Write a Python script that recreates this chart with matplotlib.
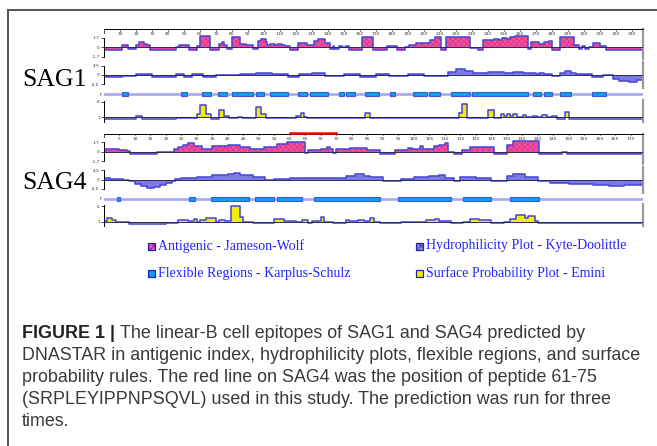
import matplotlib.pyplot as plt
import numpy as np
from matplotlib.patches import Rectangle

plt.rcParams['hatch.linewidth'] = 0.4

W, H = 657, 446

# ---- SAG1 (337 aa) ----
sag1_len = 337
sag1_ticks = list(range(10, 331, 10))
sag1_ag_start = [0, 11, 15, 20, 22, 25, 27, 29, 45, 47, 53, 58, 60, 66, 72, 74, 75, 77, 80, 85,
                 89, 93, 96, 98, 101, 102, 104, 107, 109, 111, 113, 116, 121, 127, 131, 134, 138,
                 141, 143, 144, 147, 149, 151, 153, 161, 168, 177, 183, 188, 191, 195, 204, 207,
                 211, 214, 229, 234, 237, 244, 247, 249, 252, 254, 257, 265, 267, 272, 275, 278,
                 280, 285, 294, 297, 299, 301, 303, 306, 310, 314]
sag1_ag_val = [-0.4, 0.5, -0.2, 0.4, 1.0, 0.7, 0.4, -0.5, 0.0, 0.5, -0.5, 0.3, 2.0, -0.5, 0.7,
               0.9, 0.4, -0.3, 1.9, 0.6, 0.4, -0.3, 1.2, 1.5, 1.0, 0.5, 0.7, 0.4, 0.7, 0.5, 0.3,
               -0.4, 0.8, 0.5, 1.2, 1.5, 0.8, -0.3, 0.2, -0.3, 0.3, 0.1, 0.3, -0.4, 1.9, -0.4,
               0.3, -0.4, 0.1, 0.5, 0.8, 1.4, 1.9, -0.4, 1.9, -0.1, -0.4, 1.3, 1.5, 1.3, 1.7,
               1.5, 1.9, 2.0, -0.3, 0.9, 0.6, 0.9, 1.2, -0.4, 1.9, 0.4, -0.2, 0.2, -0.3, 0.1,
               0.8, 0.3, -0.4]
sag1_hy_start = [0, 11, 20, 30, 45, 50, 55, 62, 70, 85, 95, 105, 115, 122, 130, 138, 145, 150,
                 160, 170, 178, 190, 200, 210, 215, 220, 226, 231, 240, 250, 256, 262, 270, 272,
                 275, 280, 285, 288, 292, 295, 305, 312, 318, 322, 328, 333]
sag1_hy_val = [-0.8, -0.5, 0.3, -1.0, 0.3, -1.0, 0.3, -1.0, 0.2, 0.5, 0.8, 0.3, -1.0, 0.6, 1.0,
               -0.5, -0.7, 0.3, -0.8, 0.6, -0.5, 0.5, -0.3, -0.5, 1.4, 2.7, 1.9, 0.8, 1.5, 0.8,
               1.5, 1.2, 0.3, 1.2, 0.4, -0.5, 1.2, 1.7, 0.8, 0.3, -0.8, 0.0, -2.0, -3.0, -3.4,
               -2.6]
sag1_fl_start = [11, 48, 61, 71, 80, 95, 104, 121, 129, 147, 151, 163, 179, 193, 203, 217, 230,
                 268, 275, 285, 305]
sag1_fl_end = [15, 52, 67, 77, 93, 100, 115, 127, 140, 150, 157, 172, 182, 202, 210, 229, 265,
               273, 280, 292, 314]
sag1_sf_start = [0, 20, 24, 45, 48, 58, 60, 64, 67, 72, 75, 78, 84, 86, 95, 98, 101, 120, 123,
                 125, 127, 147, 163, 166, 195, 222, 224, 227, 240, 244, 248, 250, 252, 254, 256,
                 258, 262, 264, 268, 271, 274, 277, 280, 283, 288, 291]
sag1_sf_val = [0.6, 1.5, 0.6, 0.9, 0.7, 2.0, 5.0, 2.0, 0.6, 3.3, 1.3, 0.8, 1.1, 0.8, 4.4, 2.0,
               0.7, 1.4, 2.5, 1.0, 0.7, 0.8, 2.3, 0.7, 0.8, 2.5, 5.1, 0.7, 3.3, 0.8, 2.0, 1.3,
               2.2, 1.5, 2.0, 1.2, 1.6, 1.0, 1.5, 1.1, 1.6, 1.2, 1.5, 0.6, 2.8, 0.5]

# ---- SAG4 (174 aa) ----
sag4_len = 174
sag4_ticks = list(range(5, 171, 5))
sag4_peptide = (60, 75)
sag4_ag_start = [0, 2, 5, 7.5, 8.5, 17, 22.5, 24, 25.5, 27, 29, 31.5, 35, 40, 44, 47, 51.5, 56,
                 59, 65, 66, 70, 72, 73, 74, 75, 79.5, 85, 89, 94, 98, 99.5, 102, 103, 106.5,
                 108, 110, 111, 113, 115.5, 118, 126, 130, 132, 140.5, 148, 149.5]
sag4_ag_val = [0.6, 0.5, 0.4, 0.1, -0.4, -0.05, 0.6, 0.9, 1.2, 1.6, 1.0, 0.6, 1.0, 1.3, 0.9,
               0.6, 0.9, 1.5, 1.7, -0.2, 0.3, 0.5, 0.9, 0.5, -0.1, 0.5, 0.8, 0.4, -0.3, 0.3,
               0.8, 0.5, 1.0, 0.6, 1.0, 1.3, 1.6, 0.0, -0.4, 0.3, 0.9, -0.3, 1.2, 1.9, -0.3,
               0.0, -0.3]
sag4_hy_start = [0, 2, 6, 8, 10, 12, 14, 16, 18, 20, 22, 23, 25, 30, 35, 40, 42, 44, 48, 52,
                 55, 60, 70, 78, 81, 84, 86, 90, 96, 100, 105, 108, 110, 113, 115, 120, 125,
                 130, 132, 136, 140, 144, 150, 158, 163, 168]
sag4_hy_val = [0.8, 0.4, -0.3, -0.8, -2.0, -3.2, -3.9, -3.6, -2.8, -1.8, -0.6, 0.3, 0.8, 1.2,
               2.0, 2.8, 3.2, 2.2, 1.0, -0.3, 0.4, 0.7, 0.5, 1.6, 2.8, 1.8, 1.0, -0.8, 0.4,
               1.0, 1.6, 2.0, 0.8, -0.6, 1.0, 0.6, -0.6, 1.8, 2.9, 1.0, -0.8, -1.5, -2.2,
               -2.6, -3.0, -2.6]
sag4_fl_start = [4.3, 27.6, 34.7, 48.9, 55.8, 67.9, 95, 116, 131]
sag4_fl_end = [5.3, 29.5, 46.7, 55, 63.9, 89, 112, 125, 140.3]
sag4_sf_start = [0, 1, 2.5, 4, 8, 20, 24, 27, 29, 30, 31, 33, 36, 37, 39, 41, 44, 45, 48, 55,
                 58, 62, 64, 66, 67, 70, 71, 74, 78, 79, 82, 84, 86, 87, 89, 96, 98, 104, 107,
                 108, 112, 116, 118, 121, 125, 129, 131, 133, 136, 137, 139, 140]
sag4_sf_val = [1.3, 2.3, 1.5, 0.8, 0.3, 0.5, 1.5, 1.2, 1.8, 1.0, 1.5, 2.3, 0.8, 1.5, 1.3, 6.0,
               2.5, 0.8, 0.7, 1.9, 1.4, 0.8, 1.5, 0.7, 1.2, 2.5, 1.0, 0.7, 1.5, 1.1, 1.6, 1.2,
               2.3, 0.8, 0.6, 1.0, 0.9, 1.5, 2.0, 1.3, 0.6, 1.0, 2.0, 1.5, 0.6, 1.0, 2.0, 3.2,
               2.3, 3.0, 1.3, 0.5]

legend_labels = ["Antigenic - Jameson-Wolf", "Hydrophilicity Plot - Kyte-Doolittle",
                 "Flexible Regions - Karplus-Schulz", "Surface Probability Plot - Emini"]

caption_bold = "FIGURE 1 | "
caption_lines = [
    "The linear-B cell epitopes of SAG1 and SAG4 predicted by",
    "DNASTAR in antigenic index, hydrophilicity plots, flexible regions, and surface",
    "probability rules. The red line on SAG4 was the position of peptide 61-75",
    "(SRPLEYIPPNPSQVL) used in this study. The prediction was run for three",
    "times.",
]

PINK = '#f4509f'
PINK_H = '#d0307c'
HYD = '#7e7ee8'
EDGE = '#4a48d8'
FLEX = '#0aa2e8'
FLEX_LINE = '#a8a8f2'
YEL = '#f2ee00'
TICK = '#333333'
CAP_SIZE = 12.9


def box(x0, y0, x1, y1):
    return [x0 / W, 1 - y1 / H, (x1 - x0) / W, (y1 - y0) / H]


def steps(start, val, length):
    x = np.array(list(start) + [length], float)
    y = np.array(list(val) + [val[-1]], float)
    return x, y


def profile(ax, start, val, length, base, face, hatch=None, hcolor=None):
    x, y = steps(start, val, length)
    ax.fill_between(x, base, y, step='post', facecolor=face,
                    edgecolor=hcolor if hatch else 'none', hatch=hatch, lw=0)
    ax.step(x, y, where='post', color=EDGE, lw=1.15)
    ax.plot([x[0], x[0]], [base, y[0]], color=EDGE, lw=1.15)
    ax.plot([x[-1], x[-1]], [base, y[-1]], color=EDGE, lw=1.15)
    ax.axhline(base, color='#2a2a55', lw=0.7, zorder=3)


def style(ax, length, right=True):
    ax.set_xlim(0, length)
    ax.patch.set_alpha(0)
    ax.set_xticks([])
    for s in ['top', 'bottom']:
        ax.spines[s].set_visible(False)
    ax.spines['right'].set_visible(right)
    ax.spines['right'].set_color('#9a9a9a')
    ax.spines['right'].set_linewidth(1.6)
    ax.spines['left'].set_linewidth(0.7)
    ax.tick_params(axis='y', length=2, width=0.6, pad=1, labelsize=3.2, colors=TICK)


def panel(y0, length, ticks, ag_s, ag_v, hy_s, hy_v, fl_s, fl_e, sf_s, sf_v):
    # antigenic + ruler
    ax = fig.add_axes(box(104, y0, 643, y0 + 30))
    style(ax, length)
    ax.set_ylim(-2.06, 3.31)
    ax.spines['top'].set_visible(True)
    ax.spines['top'].set_linewidth(0.7)
    ax.spines['left'].set_bounds(-1.7, 1.7)
    ax.set_yticks([-1.7, 0, 1.7], ['-1.7', '0', '1.7'])
    tr = ax.get_xaxis_transform()
    for t in ticks:
        ax.plot([t, t], [1, 0.94], transform=tr, color=TICK, lw=0.5, clip_on=False)
        ax.text(t, 0.9, str(t), transform=tr, fontsize=3.2, color=TICK,
                ha='center', va='top')
    ax.plot([0, 0], [1, 0.88], transform=tr, color=TICK, lw=0.6, clip_on=False)
    profile(ax, ag_s, ag_v, length, 0, PINK, 'xxxxxx', PINK_H)
    ag_ax = ax

    # hydrophilicity
    ax = fig.add_axes(box(104, y0 + 33, 643, y0 + 59))
    style(ax, length)
    ax.set_ylim(-6.3, 6.3)
    ax.spines['left'].set_bounds(-4.5, 4.5)
    ax.set_yticks([-4.5, 0, 4.5], ['-4.5', '0', '4.5'])
    profile(ax, hy_s, hy_v, length, 0, HYD, '.....', '#6a6ad8')

    # flexible regions
    ax = fig.add_axes(box(104, y0 + 61, 643, y0 + 69))
    style(ax, length, right=False)
    ax.spines['left'].set_visible(False)
    ax.set_ylim(-1, 1)
    ax.set_yticks([0], ['F'])
    ax.tick_params(axis='y', length=0)
    ax.axhline(0, color=FLEX_LINE, lw=1.9)
    for s, e in zip(fl_s, fl_e):
        ax.add_patch(Rectangle((s, -0.5), e - s, 1.0, facecolor=FLEX,
                               edgecolor='#3a5ad6', lw=0.8, zorder=3))

    # surface probability
    ax = fig.add_axes(box(104, y0 + 71, 643, y0 + 93))
    style(ax, length)
    ax.set_ylim(-0.5, 6.53)
    ax.spines['left'].set_bounds(-0.4, 6.3)
    ax.set_yticks([1, 6], ['1', '6'])
    profile(ax, sf_s, sf_v, length, 1, YEL)
    return ag_ax


fig = plt.figure(figsize=(W / 100, H / 100), dpi=100)
ov = fig.add_axes([0, 0, 1, 1])
ov.set_xlim(0, W)
ov.set_ylim(H, 0)
ov.axis('off')

# frame
ov.plot([8, W], [10, 10], color='#555555', lw=1.4)
ov.plot([8, 8], [10, H], color='#555555', lw=1.4)

panel(29, sag1_len, sag1_ticks, sag1_ag_start, sag1_ag_val, sag1_hy_start, sag1_hy_val,
      sag1_fl_start, sag1_fl_end, sag1_sf_start, sag1_sf_val)
ax4 = panel(133.5, sag4_len, sag4_ticks, sag4_ag_start, sag4_ag_val, sag4_hy_start, sag4_hy_val,
            sag4_fl_start, sag4_fl_end, sag4_sf_start, sag4_sf_val)
ax4.plot(sag4_peptide, [1.02, 1.02], transform=ax4.get_xaxis_transform(), color='red',
         lw=1.8, clip_on=False, zorder=5)

serif = ['Liberation Serif', 'DejaVu Serif']
ov.text(22, 80, 'SAG1', fontsize=18.5, family=serif, va='center', ha='left')
ov.text(22, 183, 'SAG4', fontsize=18.5, family=serif, va='center', ha='left')

# legend
leg_pos = [(148, 246), (416, 246), (148, 273), (416, 273)]
leg_face = [PINK, '#8c8cc8', FLEX, YEL]
leg_hatch = ['xxxx', 'xxxx', None, None]
for (lx, ly), lab, fc, ht in zip(leg_pos, legend_labels, leg_face, leg_hatch):
    ov.add_patch(Rectangle((lx, ly - 3), 6.5, 6.5, facecolor=fc, edgecolor='#2020b0',
                           lw=0.9, hatch=ht))
    ov.text(lx + 10, ly, lab, fontsize=10, family=serif, color='#2323ff',
            va='center', ha='left')

# caption
sans = ['Liberation Sans', 'DejaVu Sans']
cap_y = [334, 356, 378, 400, 422]
t = ov.text(22, cap_y[0], caption_bold, fontsize=CAP_SIZE, family=sans, weight='bold',
            color='#222222', va='center', ha='left')
fig.canvas.draw()
bb = t.get_window_extent()
x_rest = 22 + bb.width
ov.text(x_rest, cap_y[0], caption_lines[0], fontsize=CAP_SIZE, family=sans, color='#3a3a3a',
        va='center', ha='left')
for yy, line in zip(cap_y[1:], caption_lines[1:]):
    ov.text(22, yy, line, fontsize=CAP_SIZE, family=sans, color='#3a3a3a',
            va='center', ha='left')

fig.savefig('out.png', dpi=100)
